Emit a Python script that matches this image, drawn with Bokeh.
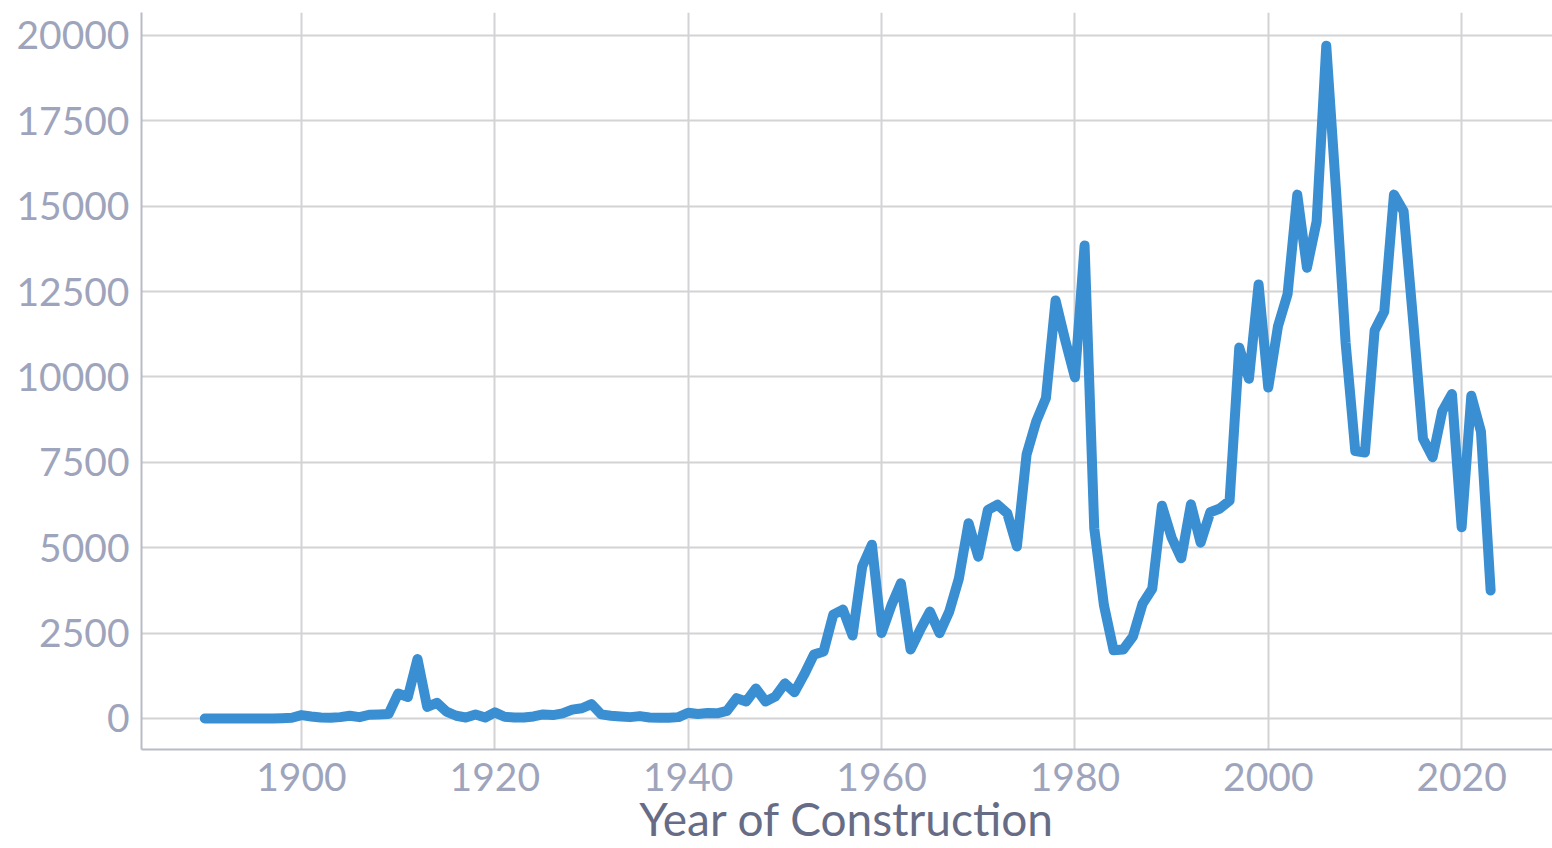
from bokeh.plotting import figure
from bokeh.models import FixedTicker, Range1d
from bokeh.embed import file_html
from bokeh.resources import INLINE

years = list(range(1890, 2024))
counts = [
    0, 0, 0, 0, 0, 0, 0, 0, 10, 20,
    100, 60, 30, 20, 40, 80, 40, 110, 120, 130,
    730, 630, 1740, 340, 460, 200, 80, 30, 120, 30,
    180, 50, 30, 30, 60, 120, 100, 150, 260, 300,
    420, 120, 80, 60, 40, 70, 30, 20, 20, 40,
    170, 130, 160, 150, 220, 595, 500, 880, 500, 640,
    1030, 770, 1290, 1870, 1960, 3040, 3190, 2430, 4450, 5090,
    2500, 3300, 3960, 2020, 2600, 3130, 2500, 3130, 4100, 5720,
    4740, 6110, 6260, 6010, 5040, 7730, 8700, 9380, 12240, 11070,
    9990, 13850, 5570, 3320, 2000, 2020, 2400, 3360, 3800, 6230,
    5300, 4690, 6270, 5150, 6040, 6150, 6380, 10860, 9950, 12710,
    9690, 11480, 12430, 15340, 13200, 14550, 19700, 15500, 11000, 7830,
    7790, 11360, 11920, 15340, 14850, 11600, 8200, 7650, 9000, 9500,
    5600, 9450, 8400, 3750,
]
x_ticks = [1900, 1920, 1940, 1960, 1980, 2000, 2020]
y_ticks = [0, 2500, 5000, 7500, 10000, 12500, 15000, 17500, 20000]
x_title = "Year of Construction"

FONT = "Lato"
TICK_COLOR = "#9ea4bc"
TITLE_COLOR = "#676c86"
GRID_COLOR = "#d3d3d6"
AXIS_COLOR = "#b9bcc6"
LINE_COLOR = "#3a8fd2"

p = figure(
    width=1552, height=848, output_backend="svg", toolbar_location=None,
    x_range=Range1d(1883.45, 2029.4), y_range=Range1d(-908, 20673),
    min_border_left=141, min_border_right=0, min_border_top=12, min_border_bottom=0,
)
p.outline_line_color = None
p.background_fill_color = "white"
p.border_fill_color = "white"

p.line(years, counts, line_color=LINE_COLOR, line_width=10,
       line_join="round", line_cap="round")

p.xaxis.ticker = FixedTicker(ticks=x_ticks)
p.yaxis.ticker = FixedTicker(ticks=y_ticks)

for ax in (p.xaxis[0], p.yaxis[0]):
    ax.major_tick_line_color = None
    ax.minor_tick_line_color = None
    ax.axis_line_color = AXIS_COLOR
    ax.axis_line_width = 2
    ax.major_label_text_font = FONT
    ax.major_label_text_font_size = "39px"
    ax.major_label_text_color = TICK_COLOR

p.xaxis.major_label_standoff = 7
p.yaxis.major_label_standoff = 6

p.xaxis.axis_label = x_title
p.xaxis.axis_label_text_font = FONT
p.xaxis.axis_label_text_font_size = "46px"
p.xaxis.axis_label_text_font_style = "normal"
p.xaxis.axis_label_text_color = TITLE_COLOR
p.xaxis.axis_label_standoff = -3

p.xgrid.grid_line_color = GRID_COLOR
p.ygrid.grid_line_color = GRID_COLOR
p.xgrid.grid_line_width = 2
p.ygrid.grid_line_width = 2

open("out.html", "w").write(file_html(p, INLINE))
